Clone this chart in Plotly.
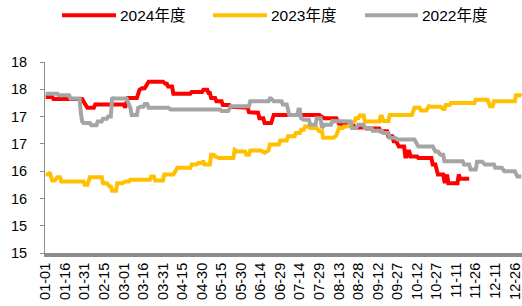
import plotly.graph_objects as go

YEAR = "2024"
series_names = ["2024年度", "2023年度", "2022年度"]
series_colors = ["#FF0000", "#FFC000", "#A5A5A5"]

tick_labels = ["01-01", "01-16", "01-31", "02-15", "03-01", "03-16", "03-31", "04-15",
               "04-30", "05-15", "05-30", "06-14", "06-29", "07-14", "07-29", "08-13",
               "08-28", "09-12", "09-27", "10-12", "10-27", "11-11", "11-26", "12-11", "12-26"]
y_tickvals = [14.5, 15, 15.5, 16, 16.5, 17, 17.5, 18]
y_ticktext = ["15", "15", "16", "16", "17", "17", "18", "18"]

dates_2024 = ["01-01", "01-06", "01-07", "01-29", "02-02", "02-07", "02-08", "03-01", "03-02", "03-04",
              "03-11", "03-13", "03-15", "03-17", "03-20", "03-31", "04-02", "04-03", "04-04", "04-07",
              "04-08", "04-21", "04-22", "04-30", "05-01", "05-04", "05-05", "05-06", "05-07", "05-10",
              "05-11", "05-15", "05-16", "05-21", "05-22", "06-04", "06-05", "06-08", "06-10", "06-12",
              "06-13", "06-16", "06-17", "06-22", "06-24", "07-29", "07-31", "08-02", "08-11", "08-13",
              "08-24", "08-25", "09-02", "09-03", "09-13", "09-14", "09-19", "09-20", "09-23", "09-24",
              "09-26", "09-28", "10-02", "10-03", "10-04", "10-05", "10-06", "10-07", "10-12", "10-13",
              "10-23", "10-24", "10-26", "10-28", "11-01", "11-02", "11-03", "11-04", "11-05", "11-12",
              "11-13", "11-14", "11-21"]
values_2024 = [17.36, 17.36, 17.32, 17.32, 17.16, 17.16, 17.22, 17.22, 17.16, 17.34,
               17.34, 17.49, 17.52, 17.52, 17.64, 17.64, 17.60, 17.60, 17.55, 17.55,
               17.42, 17.42, 17.45, 17.45, 17.49, 17.49, 17.43, 17.43, 17.34, 17.34,
               17.28, 17.28, 17.21, 17.21, 17.18, 17.16, 17.08, 17.08, 17.07, 17.07,
               16.97, 16.97, 16.88, 16.88, 17.03, 17.03, 16.99, 16.97, 16.97, 16.87,
               16.85, 16.80, 16.80, 16.78, 16.78, 16.73, 16.73, 16.64, 16.64, 16.55,
               16.55, 16.45, 16.45, 16.27, 16.27, 16.36, 16.36, 16.27, 16.27, 16.24,
               16.24, 16.12, 16.12, 15.94, 15.94, 15.81, 15.81, 15.94, 15.78, 15.78,
               15.94, 15.86, 15.86]

dates_2023 = ["01-01", "01-03", "01-04", "01-05", "01-06", "01-08", "01-10", "01-12", "01-13", "01-30",
              "01-31", "02-02", "02-04", "02-13", "02-14", "02-17", "02-19", "02-20", "02-21", "02-24",
              "02-25", "02-29", "03-02", "03-05", "03-06", "03-21", "03-22", "03-24", "03-25", "03-31",
              "04-01", "04-08", "04-11", "04-21", "04-22", "04-26", "04-27", "04-30", "05-01", "05-02",
              "05-06", "05-07", "05-09", "05-10", "05-13", "05-24", "05-25", "05-27", "06-02", "06-03",
              "06-05", "06-06", "06-14", "06-17", "06-20", "06-21", "06-28", "06-29", "07-04", "07-05",
              "07-10", "07-11", "07-14", "07-15", "07-17", "07-18", "07-21", "07-22", "07-27", "07-29",
              "07-31", "08-01", "08-09", "08-11", "08-13", "08-16", "08-17", "08-20", "08-22", "08-25",
              "08-26", "08-28", "08-29", "09-01", "09-02", "09-13", "09-14", "09-15", "09-16", "09-20",
              "09-21", "10-08", "10-10", "10-14", "10-15", "10-19", "10-21", "10-22", "10-30", "11-01",
              "11-02", "11-03", "11-06", "11-07", "11-25", "11-26", "12-05", "12-07", "12-09", "12-10",
              "12-26", "12-27", "12-30", "12-31"]
values_2023 = [15.94, 15.94, 15.98, 15.92, 15.83, 15.83, 15.89, 15.89, 15.81, 15.81,
               15.75, 15.75, 15.89, 15.89, 15.78, 15.78, 15.72, 15.72, 15.64, 15.64,
               15.78, 15.78, 15.81, 15.81, 15.84, 15.84, 15.90, 15.90, 15.83, 15.83,
               15.94, 15.94, 16.06, 16.06, 16.12, 16.12, 16.15, 16.15, 16.19, 16.12,
               16.12, 16.30, 16.30, 16.27, 16.24, 16.24, 16.39, 16.36, 16.36, 16.30,
               16.30, 16.38, 16.38, 16.34, 16.38, 16.49, 16.49, 16.56, 16.56, 16.64,
               16.64, 16.70, 16.70, 16.76, 16.76, 16.82, 16.82, 16.79, 16.79, 16.73,
               16.73, 16.61, 16.61, 16.65, 16.79, 16.79, 16.82, 16.82, 16.87, 16.91,
               16.97, 16.97, 17.02, 17.02, 16.91, 16.91, 17.00, 17.00, 16.92, 16.92,
               17.03, 17.03, 17.16, 17.16, 17.11, 17.11, 17.19, 17.18, 17.18, 17.14,
               17.14, 17.21, 17.21, 17.25, 17.25, 17.31, 17.31, 17.19, 17.19, 17.28,
               17.28, 17.39, 17.39, 17.37]

dates_2022 = ["01-01", "01-10", "01-11", "01-19", "01-20", "01-27", "01-28", "01-29", "01-30", "02-04",
              "02-05", "02-09", "02-10", "02-13", "02-14", "02-17", "02-18", "02-20", "02-21", "02-22",
              "03-03", "03-04", "03-06", "03-07", "03-11", "03-12", "03-14", "03-16", "03-17", "03-19",
              "03-20", "04-04", "04-06", "05-14", "05-15", "05-20", "05-22", "06-05", "06-06", "06-20",
              "06-21", "06-22", "06-24", "06-30", "07-01", "07-04", "07-06", "07-12", "07-13", "07-14",
              "07-15", "07-17", "07-21", "07-22", "07-26", "07-27", "07-30", "07-31", "08-02", "08-07",
              "08-08", "08-22", "08-23", "08-26", "08-28", "09-01", "09-02", "09-07", "09-08", "09-15",
              "09-16", "09-20", "09-21", "09-25", "09-27", "10-10", "10-13", "10-24", "10-26", "10-28",
              "10-30", "11-01", "11-02", "11-16", "11-17", "11-21", "11-22", "11-26", "11-27", "12-01",
              "12-03", "12-10", "12-11", "12-16", "12-18", "12-26", "12-28", "12-31"]
values_2022 = [17.42, 17.42, 17.39, 17.39, 17.33, 17.33, 17.07, 16.91, 16.88, 16.88,
               16.84, 16.84, 16.91, 16.91, 16.96, 16.96, 17.00, 17.00, 17.35, 17.33,
               17.33, 17.28, 17.16, 17.03, 17.03, 17.16, 17.18, 17.18, 17.23, 17.23,
               17.16, 17.16, 17.13, 17.13, 17.10, 17.10, 17.19, 17.19, 17.28, 17.28,
               17.33, 17.33, 17.28, 17.28, 17.22, 17.22, 17.03, 17.03, 17.13, 17.13,
               16.97, 16.94, 16.94, 16.85, 16.85, 16.97, 16.97, 16.79, 16.85, 16.85,
               16.92, 16.91, 16.79, 16.79, 16.85, 16.85, 16.79, 16.79, 16.74, 16.74,
               16.70, 16.70, 16.61, 16.61, 16.58, 16.58, 16.45, 16.45, 16.36, 16.36,
               16.30, 16.30, 16.18, 16.18, 16.12, 16.12, 16.03, 16.03, 16.17, 16.17,
               16.12, 16.12, 16.06, 16.06, 16.00, 16.00, 15.90, 15.90]

assert len(dates_2024) == len(values_2024)
assert len(dates_2023) == len(values_2023)
assert len(dates_2022) == len(values_2022)

FONT = "Liberation Sans, Arial, 'Noto Sans CJK SC', sans-serif"
W_PX, H_PX = 522, 306
L, T, PW, PH = 45, 62, 477, 191   # plot area in window pixels


def to_date(md):
    return f"{YEAR}-{md}"


fig = go.Figure()
for name, color, d, v in [(series_names[0], series_colors[0], dates_2024, values_2024),
                          (series_names[1], series_colors[1], dates_2023, values_2023),
                          (series_names[2], series_colors[2], dates_2022, values_2022)]:
    fig.add_trace(go.Scatter(x=[to_date(s) for s in d], y=v, mode="lines", name=name,
                             line=dict(color=color, width=4), showlegend=False))


def pxx(x):
    return (x - L) / PW


def pxy(y):
    return (T + PH - y) / PH


legend_items = [(62, 116, 120), (213, 267, 271), (365, 418, 422)]
for (x0, x1, xt), name, color in zip(legend_items, series_names, series_colors):
    fig.add_shape(type="line", xref="paper", yref="paper", x0=pxx(x0), x1=pxx(x1),
                  y0=pxy(15.3), y1=pxy(15.3), line=dict(color=color, width=4))
    fig.add_annotation(xref="paper", yref="paper", x=pxx(xt - 2), y=pxy(15.5), text=name,
                       showarrow=False, xanchor="left", yanchor="middle",
                       font=dict(family=FONT, size=15.5, color="#000000"))

fig.update_layout(
    width=W_PX, height=H_PX,
    margin=dict(l=L, r=W_PX - L - PW, t=T, b=H_PX - T - PH, pad=0, autoexpand=False),
    paper_bgcolor="white", plot_bgcolor="white",
    font=dict(family=FONT, size=14, color="#000000"),
    xaxis=dict(type="date", range=["2023-12-31 12:00", "2024-12-31 12:00"],
               tickmode="array", tickvals=[to_date(s) for s in tick_labels], ticktext=tick_labels,
               tickangle=-90, tickfont=dict(size=14.5), showgrid=False, zeroline=False,
               showline=True, linewidth=4, linecolor="#8C8C8C", ticks="", automargin=False,
               ticklabeloverflow="allow"),
    yaxis=dict(range=[14.5, 18], tickmode="array", tickvals=y_tickvals, ticktext=y_ticktext,
               tickfont=dict(size=14.5), showgrid=False, zeroline=False,
               showline=True, linewidth=1, linecolor="#8C8C8C",
               ticks="outside", ticklen=4, tickcolor="#8C8C8C", tickwidth=1,
               ticklabelstandoff=10, automargin=False),
)

fig.write_html("out.html",
               config={"displayModeBar": False},
               post_script="document.body.style.margin='0';"
                           "document.documentElement.style.overflow='hidden';"
                           "document.body.style.overflow='hidden';")
